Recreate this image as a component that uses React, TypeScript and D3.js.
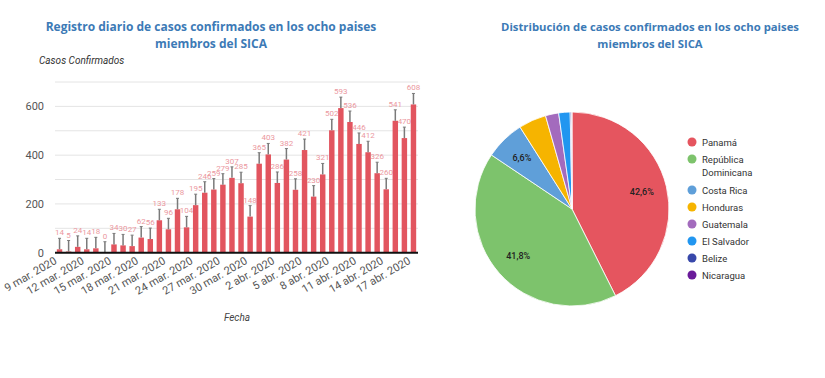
import React from "react";
import * as d3 from "d3";

const dates: string[] = [
  "9 mar. 2020","10 mar. 2020","11 mar. 2020","12 mar. 2020","13 mar. 2020","14 mar. 2020","15 mar. 2020",
  "16 mar. 2020","17 mar. 2020","18 mar. 2020","19 mar. 2020","20 mar. 2020","21 mar. 2020","22 mar. 2020",
  "23 mar. 2020","24 mar. 2020","25 mar. 2020","26 mar. 2020","27 mar. 2020","28 mar. 2020","29 mar. 2020",
  "30 mar. 2020","31 mar. 2020","1 abr. 2020","2 abr. 2020","3 abr. 2020","4 abr. 2020","5 abr. 2020",
  "6 abr. 2020","7 abr. 2020","8 abr. 2020","9 abr. 2020","10 abr. 2020","11 abr. 2020","12 abr. 2020",
  "13 abr. 2020","14 abr. 2020","15 abr. 2020","16 abr. 2020","17 abr. 2020",
];
const cases: number[] = [
  14, 5, 24, 14, 18, 0, 34, 30, 27, 62, 56, 133, 96, 178, 104, 195, 246, 259, 279, 307, 285,
  148, 365, 403, 286, 382, 258, 421, 230, 321, 502, 593, 536, 446, 412, 326, 260, 541, 470, 608,
];
const errorMargin = 45;
const yTickValues: number[] = [0, 200, 400, 600];
const yGridValues: number[] = [0, 100, 200, 300, 400, 500, 600, 700];

const countries: string[] = ["Panamá", "República Dominicana", "Costa Rica", "Honduras", "Guatemala", "El Salvador", "Belize", "Nicaragua"];
const legendLines: string[][] = [["Panamá"], ["República", "Dominicana"], ["Costa Rica"], ["Honduras"], ["Guatemala"], ["El Salvador"], ["Belize"], ["Nicaragua"]];
const shares: number[] = [42.6, 41.8, 6.6, 4.6, 2.2, 1.9, 0.2, 0.1];
const colors: string[] = ["#e5555f", "#7dc36c", "#5f9fd9", "#f6b400", "#a36bbd", "#2196f0", "#3848aa", "#6a1b9a"];

const FONT = "Roboto, 'Open Sans', sans-serif";
const TITLE_FONT = "'Open Sans', sans-serif";
const TITLE_COLOR = "#3c7ab6";

export default function App() {
  const x = d3.scaleBand<number>().domain(d3.range(cases.length)).range([55, 418]).paddingInner(0.4).paddingOuter(0.2);
  const y = d3.scaleLinear().domain([0, 700]).range([252.7, 82]);
  const bw = x.bandwidth();

  const cx = 572, cy = 209, r = 97;
  const pie = d3.pie<number>().sort(null).startAngle(0).endAngle(2 * Math.PI)(shares);
  const arc = d3.arc<d3.PieArcDatum<number>>().innerRadius(0).outerRadius(r);
  const labelArc = d3.arc<d3.PieArcDatum<number>>().innerRadius(r * 0.74).outerRadius(r * 0.74);

  let legendY = 142;
  const legendItems = legendLines.map((lines, i) => {
    const item = { lines, i, y: legendY };
    legendY += 17 * lines.length + (lines.length > 1 ? -3 : 0);
    return item;
  });

  return (
    <svg width={825} height={378} style={{ position: "absolute", left: 0, top: 0, background: "#fff" }}>
      <rect width={825} height={378} fill="#fff" />
      {/* Bar chart title */}
      <text x={211} y={31} textAnchor="middle" fontFamily={TITLE_FONT} fontWeight={700} fontSize={12} fill={TITLE_COLOR}>
        Registro diario de casos confirmados en los ocho paises
      </text>
      <text x={211} y={48} textAnchor="middle" fontFamily={TITLE_FONT} fontWeight={700} fontSize={12} fill={TITLE_COLOR}>
        miembros del SICA
      </text>
      <text x={39} y={64} fontFamily={FONT} fontStyle="italic" fontSize={10} fill="#333">Casos Confirmados</text>

      {yGridValues.map((v) => (
        <line key={"g" + v} x1={55} x2={418} y1={y(v)} y2={y(v)} stroke="#e4e4e4" strokeWidth={1} />
      ))}
      {yTickValues.map((v) => (
        <text key={"t" + v} x={44} y={y(v) + 4} textAnchor="end" fontFamily={FONT} fontSize={11} fill="#555">{v}</text>
      ))}

      {cases.map((v, i) => {
        const bx = x(i)!;
        const mid = bx + bw / 2;
        const top = y(v + errorMargin);
        return (
          <g key={"b" + i}>
            <rect x={bx} y={y(v)} width={bw} height={y(0) - y(v)} fill="#e2555f" />
            <line x1={mid} x2={mid} y1={y(v)} y2={top} stroke="#7a7a7a" strokeWidth={1.5} />
            <line x1={mid - 1.5} x2={mid + 1.5} y1={top} y2={top} stroke="#7a7a7a" strokeWidth={1} />
            <text x={mid} y={top - 3} textAnchor="middle" fontFamily={FONT} fontSize={8} fill="#eb98a0">{v}</text>
          </g>
        );
      })}
      <line x1={55} x2={418} y1={y(0)} y2={y(0)} stroke="#111" strokeWidth={2} />

      {dates.map((d, i) =>
        i % 3 === 0 ? (
          <text key={"x" + i} transform={`translate(${x(i)! + bw / 2 - 2},${263}) rotate(-30)`} textAnchor="end"
            fontFamily={FONT} fontSize={11} fill="#555">{d}</text>
        ) : null
      )}
      <text x={237} y={321} textAnchor="middle" fontFamily={FONT} fontStyle="italic" fontSize={10} fill="#444">Fecha</text>

      {/* Pie chart */}
      <text x={650} y={31} textAnchor="middle" fontFamily={TITLE_FONT} fontWeight={700} fontSize={11.3} fill={TITLE_COLOR}>
        Distribución de casos confirmados en los ocho paises
      </text>
      <text x={650} y={48} textAnchor="middle" fontFamily={TITLE_FONT} fontWeight={700} fontSize={11.3} fill={TITLE_COLOR}>
        miembros del SICA
      </text>
      <g transform={`translate(${cx},${cy})`}>
        {pie.map((p, i) => (
          <path key={"p" + i} d={arc(p)!} fill={colors[i]} stroke="#fff" strokeWidth={0.8} />
        ))}
        {pie.map((p, i) => {
          if (shares[i] < 5) return null;
          const [lx, ly] = labelArc.centroid(p);
          return (
            <text key={"l" + i} x={lx} y={ly + 3} textAnchor="middle" fontFamily={FONT} fontSize={9} fontWeight={500} fill="#222">
              {shares[i].toFixed(1).replace(".", ",")}%
            </text>
          );
        })}
      </g>
      {legendItems.map(({ lines, i, y: ly }) => (
        <g key={"lg" + i}>
          <circle cx={692} cy={ly} r={4.5} fill={colors[i]} />
          {lines.map((t, k) => (
            <text key={k} x={702} y={ly + 3.5 + k * 13} fontFamily={FONT} fontSize={9.5} fill="#333">{t}</text>
          ))}
        </g>
      ))}
    </svg>
  );
}
